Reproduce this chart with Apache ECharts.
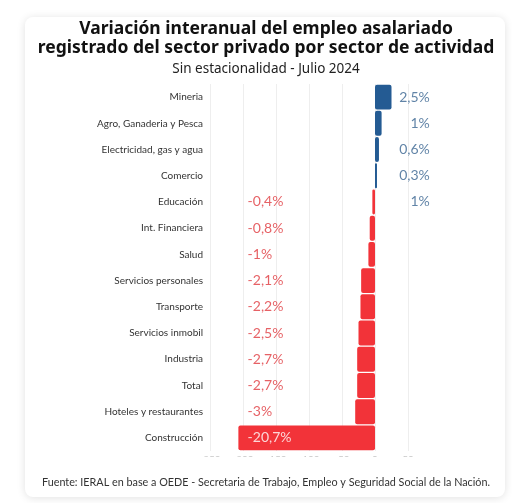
<!DOCTYPE html>
<html><head><meta charset="utf-8">
<script src="https://cdn.jsdelivr.net/npm/echarts@6/dist/echarts.min.js"></script>
<style>html,body{margin:0;padding:0;background:#fff}#c{width:512px;height:503px}</style>
</head><body><div id="c"></div>
<script>
const categories = ['Mineria','Agro, Ganaderia y Pesca','Electricidad, gas y agua','Comercio','Educación','Int. Financiera','Salud','Servicios personales','Transporte','Servicios inmobil','Industria','Total','Hoteles y restaurantes','Construcción'];
const values = [2.5, 1, 0.6, 0.3, -0.4, -0.8, -1, -2.1, -2.2, -2.5, -2.7, -2.7, -3, -20.7];
const leftLabels = ['', '', '', '', '-0,4%', '-0,8%', '-1%', '-2,1%', '-2,2%', '-2,5%', '-2,7%', '-2,7%', '-3%', '-20,7%'];
const rightLabels = ['2,5%', '1%', '0,6%', '0,3%', '1%', '', '', '', '', '', '', '', '', ''];
const tickLabels = ['-250','-200','-150','-100','-50','0','50'];

const BLUE = '#245b93', RED = '#f23339';
const FONT = 'Lato, "Open Sans", sans-serif';
const chart = echarts.init(document.getElementById('c'));
const LEFT_ANCHOR = -19.3, RIGHT_ANCHOR = 8.3;

const tickMap = {};
[-25,-20,-15,-10,-5,0,5].forEach((v,i)=>{tickMap[v]=tickLabels[i];});

const leftData = [];
leftLabels.forEach((t,i)=>{
  if (t === '') return;
  const inside = values[i] < LEFT_ANCHOR;
  leftData.push({value:[LEFT_ANCHOR, i], name:t, label:{color: inside ? '#ffffff' : '#e0393e'}});
});
const rightData = [];
rightLabels.forEach((t,i)=>{
  if (t === '') return;
  rightData.push({value:[RIGHT_ANCHOR, i], name:t});
});

chart.setOption({
  animation: false,
  backgroundColor: '#fff',
  graphic: [
    {type:'rect', z:-10, shape:{x:25,y:17,width:480,height:480,r:8}, style:{fill:'#fff', shadowBlur:8, shadowColor:'rgba(0,0,0,0.12)', shadowOffsetY:1}},
    {type:'text', z:10, x:266, y:20, style:{text:'Variación interanual del empleo asalariado\nregistrado del sector privado por sector de actividad', textAlign:'center', fill:'#111', font:'bold 17.5px "Noto Sans", sans-serif', lineHeight:19}},
    {type:'text', z:10, x:266, y:62, style:{text:'Sin estacionalidad - Julio 2024', textAlign:'center', fill:'#222', font:'13.5px "Noto Sans", sans-serif'}},
    {type:'rect', z:100, shape:{x:30,y:457,width:470,height:16}, style:{fill:'#fff'}},
    {type:'text', z:101, x:266, y:477, style:{text:'Fuente: IERAL en base a OEDE - Secretaria de Trabajo, Empleo y Seguridad Social de la Nación.', textAlign:'center', fill:'#333', font:'10.8px '+FONT}}
  ],
  grid: {left:210, right:71, top:84, bottom:52},
  xAxis: {
    type:'value', min:-25, max:10, interval:5,
    axisLine:{show:false}, axisTick:{show:false},
    splitLine:{show:true, showMaxLine:false, lineStyle:{color:'#eeeeee', width:1}},
    axisLabel:{color:'#c8c8c8', fontSize:10, margin:4, showMaxLabel:false, fontFamily:FONT, formatter:v=>tickMap[v] !== undefined ? tickMap[v] : ''}
  },
  yAxis: {
    type:'category', inverse:true, data:categories,
    axisLine:{show:false}, axisTick:{show:false},
    axisLabel:{color:'#333', fontSize:10, margin:7, fontFamily:FONT}
  },
  series: [
    {
      type:'bar', data: values.map(v=>({value:v, itemStyle:{color: v>=0?BLUE:RED, borderRadius:2}})),
      barCategoryGap:'5%'
    },
    {
      type:'scatter', symbolSize:0, silent:true, z:5,
      data: leftData,
      label:{show:true, position:'right', distance:0, fontSize:14, fontFamily:FONT,
        formatter:'{b}'},
      itemStyle:{color:'transparent'}
    },
    {
      type:'scatter', symbolSize:0, silent:true, z:5, clip:false,
      data: rightData,
      label:{show:true, position:'left', distance:0, fontSize:14, fontFamily:FONT,
        formatter:'{b}', color:'#3a6591'},
      itemStyle:{color:'transparent'}
    }
  ]
});
</script></body></html>
